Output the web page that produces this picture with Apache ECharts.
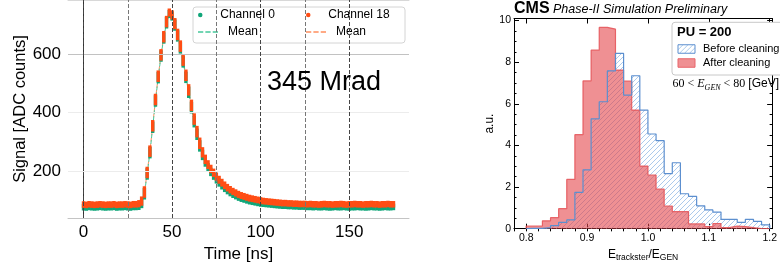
<!DOCTYPE html>
<html>
<head>
<meta charset="utf-8">
<script src="https://cdn.jsdelivr.net/npm/echarts@6/dist/echarts.min.js"></script>
<style>
  html, body { margin: 0; padding: 0; background: #fff; }
  #chart { width: 780px; height: 268px; }
</style>
</head>
<body>
<div id="chart"></div>
<script>
// ---- left panel: pulse shape, one sample every 1.5625 ns ----
const sampleStep = 1.5625
const ch0Signal = [
  76,75,77,76,75,76,77,76,75,76,76,77,75,76,76,77,76,75,77,77,
  79,89,122,190,263,350,440,520,594,656,708,738,731,700,663,622,574,521,470,417,
  369,326,286,255,231,212,197,184,171,160,150,141,133,126,120,115,110,106,103,100,
  97,95,93,91,89,88,87,86,85,84,83,82,81,81,80,80,79,79,78,78,78,
  77,77,76,77,76,76,77,76,75,76,77,76,76,77,76,75,76,76,77,76,76,75,76,77,76,76,75,76,77,76,76,77
]
const ch18Signal = [
  85,84,86,85,84,85,86,85,84,85,85,86,84,85,85,86,85,84,86,86,
  88,97,128,195,268,355,445,525,598,660,712,743,735,705,668,628,580,528,478,425,
  378,335,295,264,240,222,207,194,181,170,160,151,143,136,130,125,120,116,113,110,
  107,105,103,101,99,97,96,95,94,93,92,91,90,90,89,89,88,88,87,87,87,
  86,87,86,86,85,86,87,86,86,85,86,86,87,86,85,86,86,87,86,86,85,86,86,87,86,86,85,86,86,87,86,86
]
const timeTicks = [0, 50, 100, 150]
const signalTicks = [200, 400, 600]
const markerTimes = [0, 25, 50, 75, 100, 125, 150]

// ---- right panel: E_trackster / E_GEN histograms ----
const histRange = [0.8, 1.2]
const beforeCleaning = [0.02,0.02,0.05,0.15,0.3,0.42,1.75,2.83,5.28,6.1,7.58,8.42,6.42,7.35,5.7,4.55,4.23,2.65,3.17,1.68,1.55,1.1,0.9,0.8,0.45,0.45,0.3,0.45,0.35,0.18]
const afterCleaning = [0.13,0.13,0.38,0.53,0.96,2.37,4.52,7.1,8.58,9.67,9.59,7.62,7.09,5.7,3.01,2.58,1.9,1.09,0.82,0.82,0.23,0.23,0.1,0.25,0.05,0.13,0.1,0.05,0,0]
const ratioTicks = [0.8, 0.9, 1.0, 1.1, 1.2]

const FONT = 'Liberation Sans'
const green = '#10a679', orange = '#ff4d14'
const greenMean = '#45c89b', orangeMean = '#ff8f5e'
const blueEdge = '#5c8fcf', redFill = 'rgba(228,70,75,0.6)'
// dashed legend icon
const dashIcon = 'path://M0,0h5v1.4h-5z M7,0h5v1.4h-5z M14,0h5v1.4h-5z'

const times = ch0Signal.map((_, i) => i * sampleStep)
const nBins = beforeCleaning.length
const binEdges = []
for (let k = 0; k <= nBins; k++) binEdges.push(histRange[0] + (histRange[1] - histRange[0]) * k / nBins)
const minorRatio = []
for (let k = 0; k <= 21; k++) minorRatio.push(+(0.78 + k * 0.02).toFixed(2))

// histogram outline points (left edges, step at end)
function stepData(vals) {
  const d = [[binEdges[0], 0]]
  vals.forEach((v, k) => d.push([binEdges[k], v]))
  d.push([binEdges[nBins], vals[nBins - 1]])
  d.push([binEdges[nBins], 0])
  return d
}

// hatch pattern "///"
const hatch = document.createElement('canvas')
hatch.width = 5; hatch.height = 5
const hc = hatch.getContext('2d')
hc.strokeStyle = '#a3c4ea'; hc.lineWidth = 0.9
hc.beginPath()
hc.moveTo(0, 5); hc.lineTo(5, 0)
hc.moveTo(-1, 1); hc.lineTo(1, -1)
hc.moveTo(4, 6); hc.lineTo(6, 4)
hc.stroke()
const hatchFill = { image: hatch, repeat: 'repeat' }

// taller blobs where the pulse is steep
function blobSize(arr) {
  return (val, p) => {
    const i = p.dataIndex
    const a = arr[Math.max(i - 1, 0)], b = arr[Math.min(i + 1, arr.length - 1)]
    return [3.4, 6.5 + Math.min(Math.abs(b - a) * 0.07, 5)]
  }
}

const legendText = { fontSize: 12, color: '#000', padding: [0, 0, 0, 5] }

const chart = echarts.init(document.getElementById('chart'))
const option = {
  animation: false,
  textStyle: { fontFamily: FONT, color: '#000' },
  grid: [
    { left: 68, top: 0, width: 341, height: 218 },
    { left: 514, top: 18.5, width: 265, height: 210.2 }
  ],
  xAxis: [
    {
      gridIndex: 0, type: 'value', min: -8.75, max: 183.75,
      name: 'Time [ns]', nameLocation: 'middle', nameGap: 22,
      nameTextStyle: { fontSize: 17, color: '#000' },
      axisLine: { lineStyle: { color: '#c4c4c4' } },
      axisTick: { show: false },
      axisLabel: { customValues: timeTicks, fontSize: 17, color: '#000', margin: 6 },
      splitLine: { show: false }
    },
    {
      gridIndex: 0, type: 'value', position: 'top', min: -8.75, max: 183.75,
      axisLine: { lineStyle: { color: '#d8d8d8' } },
      axisTick: { show: false }, axisLabel: { show: false }, splitLine: { show: false }
    },
    {
      gridIndex: 1, type: 'value', min: 0.78, max: 1.204,
      name: '{m|E}{s|trackster}{m|/E}{s|GEN}', nameLocation: 'middle', nameGap: 12,
      nameTextStyle: {
        rich: {
          m: { fontSize: 12, lineHeight: 16, verticalAlign: 'middle', color: '#000', fontFamily: FONT },
          s: { fontSize: 8.5, lineHeight: 8, verticalAlign: 'bottom', color: '#000', fontFamily: FONT }
        }
      },
      axisLine: { onZero: false, lineStyle: { color: '#000', width: 1 } },
      axisTick: { inside: true, length: 5, customValues: ratioTicks, lineStyle: { color: '#000' } },
      axisLabel: { customValues: ratioTicks, formatter: v => v.toFixed(1), fontSize: 10.5, color: '#000', margin: 4 },
      splitLine: { show: false }
    },
    {
      gridIndex: 1, type: 'value', min: 0.78, max: 1.204,
      axisLine: { show: false },
      axisTick: { inside: true, length: 2.5, customValues: minorRatio, lineStyle: { color: '#000' } },
      axisLabel: { show: false }, splitLine: { show: false }
    },
    {
      gridIndex: 1, type: 'value', position: 'top', min: 0.78, max: 1.204,
      axisLine: { onZero: false, lineStyle: { color: '#000', width: 1 } },
      axisTick: { inside: true, length: 5, customValues: ratioTicks, lineStyle: { color: '#000' } },
      axisLabel: { show: false }, splitLine: { show: false }
    },
    {
      gridIndex: 1, type: 'value', position: 'top', min: 0.78, max: 1.204,
      axisLine: { show: false },
      axisTick: { inside: true, length: 2.5, customValues: minorRatio, lineStyle: { color: '#000' } },
      axisLabel: { show: false }, splitLine: { show: false }
    }
  ],
  yAxis: [
    {
      gridIndex: 0, type: 'value', min: 39, max: 786,
      name: 'Signal [ADC counts]', nameLocation: 'middle', nameGap: 38,
      nameTextStyle: { fontSize: 16.5, color: '#000' },
      axisLine: { show: true, lineStyle: { color: '#c4c4c4' } },
      axisTick: { show: false },
      axisLabel: { customValues: signalTicks, fontSize: 17, color: '#000', margin: 7 },
      splitLine: { show: false }
    },
    {
      gridIndex: 0, type: 'value', position: 'right', min: 39, max: 786,
      axisLine: { show: true, lineStyle: { color: '#333' } },
      axisTick: { show: false }, axisLabel: { show: false }, splitLine: { show: false }
    },
    {
      gridIndex: 1, type: 'value', min: 0, max: 10.1, interval: 2,
      name: 'a.u.', nameLocation: 'middle', nameGap: 16,
      nameTextStyle: { fontSize: 12, color: '#000' },
      axisLine: { show: true, onZero: false, lineStyle: { color: '#000' } },
      axisTick: { inside: true, length: 5, lineStyle: { color: '#000' } },
      minorTick: { show: true, splitNumber: 4, length: 2.5, lineStyle: { color: '#000' } },
      axisLabel: { fontSize: 10.5, color: '#000', margin: 3, formatter: v => (v % 2 === 0 ? String(v) : '') },
      splitLine: { show: false }
    },
    {
      gridIndex: 1, type: 'value', position: 'right', min: 0, max: 10.1, interval: 2,
      axisLine: { show: true, onZero: false, lineStyle: { color: '#000' } },
      axisTick: { inside: true, length: 5, lineStyle: { color: '#000' } },
      minorTick: { show: true, splitNumber: 4, length: 2.5, lineStyle: { color: '#000' } },
      axisLabel: { show: false }, splitLine: { show: false }
    }
  ],
  legend: [
    { data: [{ name: 'Channel 0', icon: 'circle' }], left: 198, top: 9, padding: 0, itemWidth: 20, itemHeight: 4.5,
      textStyle: legendText, selectedMode: false },
    { data: [{ name: 'Mean', icon: dashIcon, itemStyle: { color: greenMean } }], left: 198, top: 26, padding: 0, itemWidth: 20, itemHeight: 12,
      textStyle: legendText, selectedMode: false },
    { data: [{ name: 'Channel 18', icon: 'circle' }], left: 306, top: 9, padding: 0, itemWidth: 20, itemHeight: 4.5,
      textStyle: legendText, selectedMode: false },
    { data: [{ name: 'Mean ', icon: dashIcon, itemStyle: { color: orangeMean } }], left: 306, top: 26, padding: 0, itemWidth: 20, itemHeight: 12,
      textStyle: legendText, selectedMode: false },
    {
      data: [
        { name: 'Before cleaning', icon: 'rect', itemStyle: { color: hatchFill, borderColor: blueEdge, borderWidth: 1 } },
        { name: 'After cleaning', icon: 'rect', itemStyle: { color: redFill, borderColor: '#e8646a', borderWidth: 1 } }
      ],
      orient: 'vertical', left: 677.5, top: 43.5, padding: 0, itemWidth: 17, itemHeight: 8.5, itemGap: 3,
      textStyle: { fontSize: 11, color: '#000', padding: [0, 0, 0, 3] }, selectedMode: false
    }
  ],
  graphic: [
    { type: 'rect', z: 3, shape: { x: 193, y: 7, width: 212, height: 36, r: 3 },
      style: { fill: 'rgba(255,255,255,0.8)', stroke: '#d4d4d4', lineWidth: 1 } },
    { type: 'rect', z: 3, shape: { x: 672, y: 22.3, width: 120, height: 52.7, r: 3 },
      style: { fill: '#fff', stroke: '#c8c8c8', lineWidth: 1 } },
    { type: 'text', z: 10, x: 267, y: 83,
      style: { text: '345 Mrad', fontSize: 27, fontFamily: FONT, fill: '#000', verticalAlign: 'middle' } },
    { type: 'text', z: 10, x: 514, y: 9,
      style: { text: 'CMS', fontSize: 16, fontWeight: 'bold', fontFamily: FONT, fill: '#000', verticalAlign: 'middle' } },
    { type: 'text', z: 10, x: 553, y: 9.8,
      style: { text: 'Phase-II Simulation Preliminary', fontSize: 12.5, fontStyle: 'italic', fontFamily: FONT, fill: '#000', verticalAlign: 'middle' } },
    { type: 'text', z: 10, x: 677, y: 32.8,
      style: { text: 'PU = 200', fontSize: 13, fontWeight: 'bold', fontFamily: FONT, fill: '#000', verticalAlign: 'middle' } },
    { type: 'text', z: 10, x: 672.5, y: 84,
      style: {
        text: '{r|60 < }{i|E}{j|GEN}{r| < 80 }{g|[GeV]}',
        verticalAlign: 'middle',
        rich: {
          r: { fontSize: 12, fontFamily: 'Liberation Serif', fill: '#000', lineHeight: 16, verticalAlign: 'middle' },
          i: { fontSize: 12, fontFamily: 'Liberation Serif', fontStyle: 'italic', fill: '#000', lineHeight: 16, verticalAlign: 'middle' },
          j: { fontSize: 8, fontFamily: 'Liberation Serif', fontStyle: 'italic', fill: '#000', lineHeight: 8, verticalAlign: 'bottom' },
          g: { fontSize: 12, fontFamily: FONT, fill: '#000', lineHeight: 16, verticalAlign: 'middle' }
        }
      } }
  ],
  series: [
    {
      // grid lines and the dashed time markers
      type: 'line', xAxisIndex: 0, yAxisIndex: 0, data: [], z: 1, silent: true,
      markLine: {
        silent: true, symbol: 'none', label: { show: false }, animation: false,
        data: signalTicks.map(v => ({ yAxis: v, lineStyle: { color: v === 600 ? '#c2c2c2' : '#ececec', type: 'solid', width: 1 } }))
          .concat(markerTimes.map(t => ({ xAxis: t, lineStyle: { color: t % 50 === 0 ? '#444' : '#777', type: [4, 2], width: 1 } })))
      }
    },
    {
      name: 'Mean ', type: 'line', xAxisIndex: 0, yAxisIndex: 0, z: 2, symbol: 'none',
      lineStyle: { color: orangeMean, width: 1, type: [4, 2] }, itemStyle: { color: orangeMean },
      data: times.map((t, i) => [t, ch18Signal[i]])
    },
    {
      name: 'Mean', type: 'line', xAxisIndex: 0, yAxisIndex: 0, z: 2, symbol: 'none',
      lineStyle: { color: greenMean, width: 1, type: [4, 2] }, itemStyle: { color: greenMean },
      data: times.map((t, i) => [t, ch0Signal[i]])
    },
    {
      name: 'Channel 0', type: 'scatter', xAxisIndex: 0, yAxisIndex: 0, z: 3,
      symbol: 'rect', symbolSize: blobSize(ch0Signal), itemStyle: { color: green, opacity: 1 },
      data: times.map((t, i) => [t, ch0Signal[i]])
    },
    {
      name: 'Channel 18', type: 'scatter', xAxisIndex: 0, yAxisIndex: 0, z: 3,
      symbol: 'rect', symbolSize: blobSize(ch18Signal), itemStyle: { color: orange, opacity: 1 },
      data: times.map((t, i) => [t, ch18Signal[i]])
    },
    {
      name: 'Before cleaning', type: 'line', xAxisIndex: 2, yAxisIndex: 2, z: 2, step: 'end', symbol: 'none',
      lineStyle: { width: 0 }, itemStyle: { color: blueEdge },
      areaStyle: { color: hatchFill, opacity: 1 },
      data: stepData(beforeCleaning)
    },
    {
      name: 'After cleaning', type: 'line', xAxisIndex: 2, yAxisIndex: 2, z: 3, step: 'end', symbol: 'none',
      lineStyle: { width: 1.2, color: 'rgba(228,80,85,0.85)' }, itemStyle: { color: '#e8646a' },
      areaStyle: { color: redFill, opacity: 1 },
      data: stepData(afterCleaning)
    },
    {
      name: 'Before cleaning', type: 'line', xAxisIndex: 2, yAxisIndex: 2, z: 4, step: 'end', symbol: 'none',
      lineStyle: { width: 1.2, color: blueEdge }, itemStyle: { color: blueEdge },
      data: stepData(beforeCleaning)
    }
  ]
}
chart.setOption(option)
</script>
</body>
</html>
